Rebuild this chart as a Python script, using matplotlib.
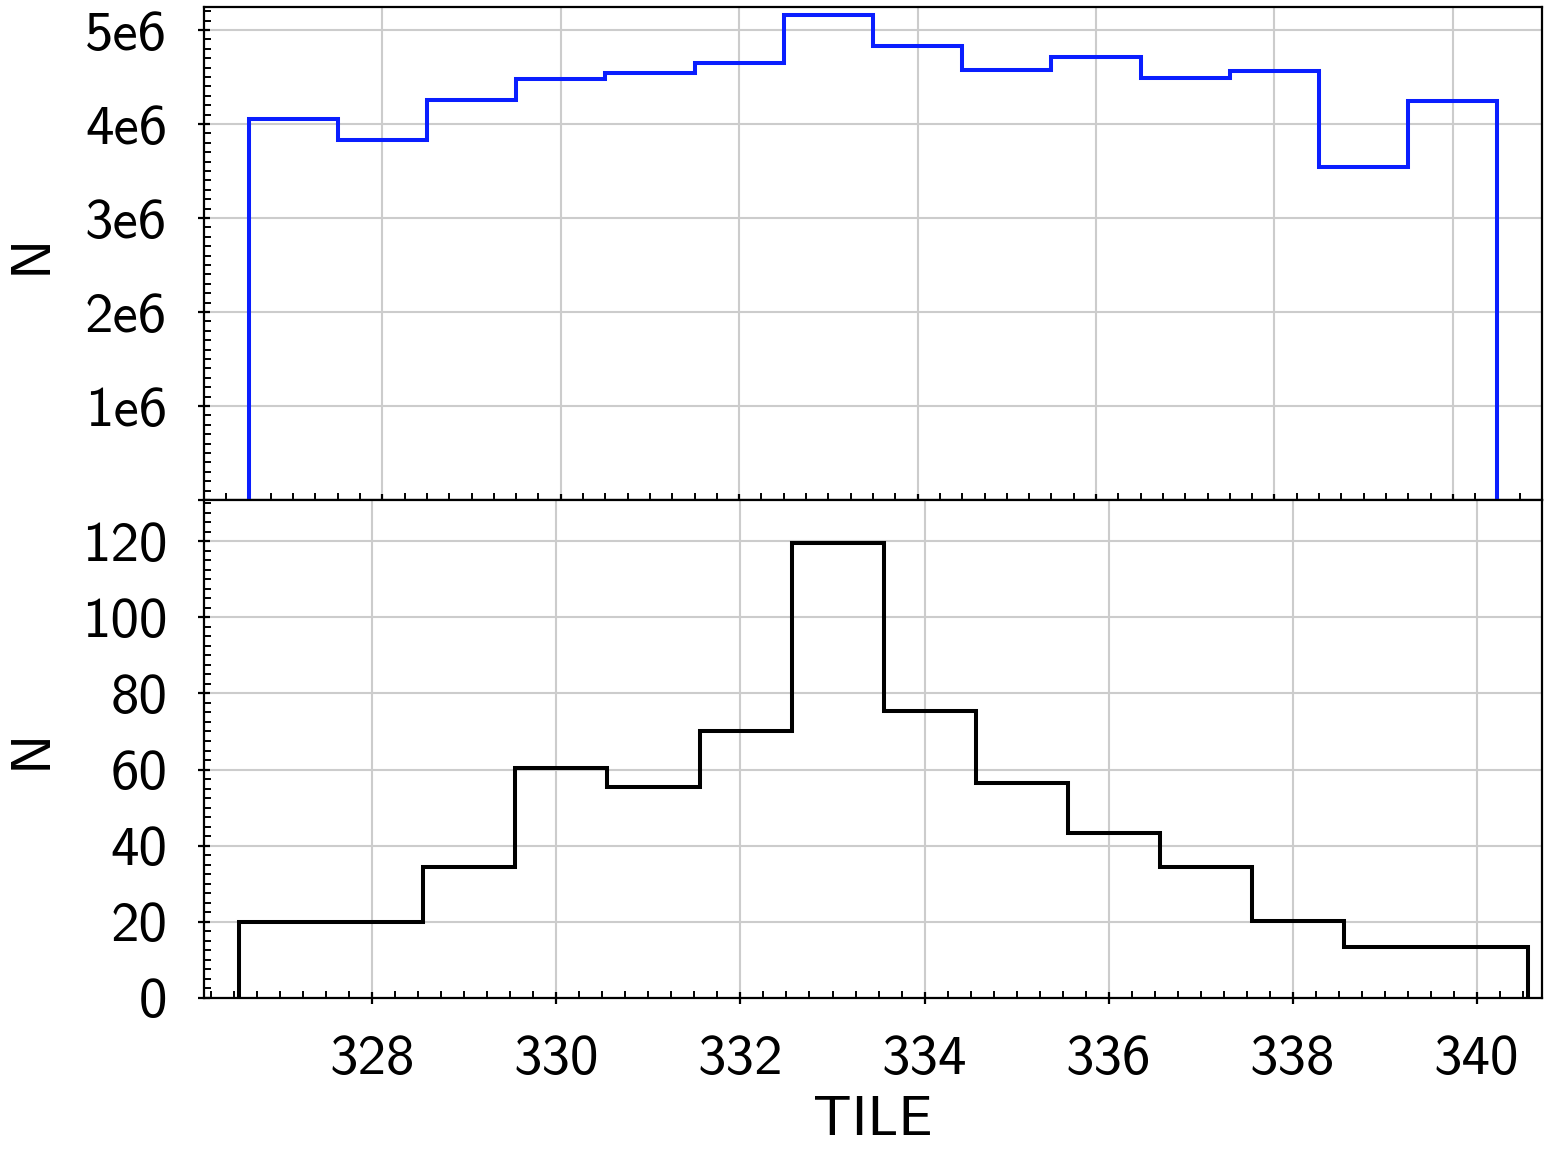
import numpy as np
import matplotlib
matplotlib.use('Agg')
import matplotlib.pyplot as plt
from matplotlib.ticker import MultipleLocator

# 字体：Computer Modern Sans（matplotlib 自带）
plt.rcParams['font.family'] = ['cmss10', 'DejaVu Sans']
plt.rcParams['axes.unicode_minus'] = False
plt.rcParams['mathtext.fontset'] = 'cm'

# 上图：所有数据的 TILE 分布
top_edges = np.arange(326.5, 341.0, 1.0)
top_counts = [4.05e6, 3.83e6, 4.255e6, 4.48e6, 4.54e6, 4.645e6, 5.16e6,
              4.835e6, 4.575e6, 4.71e6, 4.495e6, 4.56e6, 3.545e6, 4.245e6]
top_yticks = [0, 1e6, 2e6, 3e6, 4e6, 5e6]
top_yticklabels = ['', '1e6', '2e6', '3e6', '4e6', '5e6']

# 下图：选中样本的 TILE 分布
bot_edges = np.arange(326.555, 341.0, 1.0)
bot_counts = [20, 20, 34.5, 60.3, 55.5, 70.1, 119.6,
              75.4, 56.4, 43.4, 34.3, 20.3, 13.5, 13.5]
bot_yticks = [0, 20, 40, 60, 80, 100, 120]
xticks = [328, 330, 332, 334, 336, 338, 340]

COLOR_GRID = '#cccccc'
LW = 2.9
FS = 41

fig = plt.figure(figsize=(15.52, 11.5), dpi=100)
ax1 = fig.add_axes([0.1314, 0.5652, 0.8622, 0.4287])
ax2 = fig.add_axes([0.1314, 0.1322, 0.8622, 0.4330])

ax1.stairs(top_counts, top_edges, color='#0a1eff', linewidth=LW, zorder=3)
ax2.stairs(bot_counts, bot_edges, color='black', linewidth=LW, zorder=3)

ax1.set_xlim(326.0, 341.0)
ax1.set_ylim(0, 5.245e6)
ax2.set_xlim(326.17, 340.71)
ax2.set_ylim(0, 130.8)

ax1.set_yticks(top_yticks)
ax1.set_yticklabels(top_yticklabels)
ax1.yaxis.set_minor_locator(MultipleLocator(1e5))
ax1.set_xticks(xticks)
ax1.set_xticklabels([])
ax1.xaxis.set_minor_locator(MultipleLocator(0.25))

ax2.set_yticks(bot_yticks)
ax2.yaxis.set_minor_locator(MultipleLocator(2.5))
ax2.set_xticks(xticks)
ax2.xaxis.set_minor_locator(MultipleLocator(0.25))

for ax in (ax1, ax2):
    ax.grid(True, which='major', color=COLOR_GRID, linewidth=1.5)
    ax.set_axisbelow(True)
    ax.tick_params(which='major', direction='inout', length=9, width=1.6,
                   labelsize=FS, pad=22)
    ax.tick_params(which='minor', direction='in', length=5, width=1.4)
    for sp in ax.spines.values():
        sp.set_linewidth(1.6)
    ax.set_ylabel('N', fontsize=FS)
    ax.yaxis.set_label_coords(-0.11, 0.5)

ax2.set_xlabel('TILE', fontsize=FS, labelpad=8)

fig.savefig('out.png', dpi=100)
